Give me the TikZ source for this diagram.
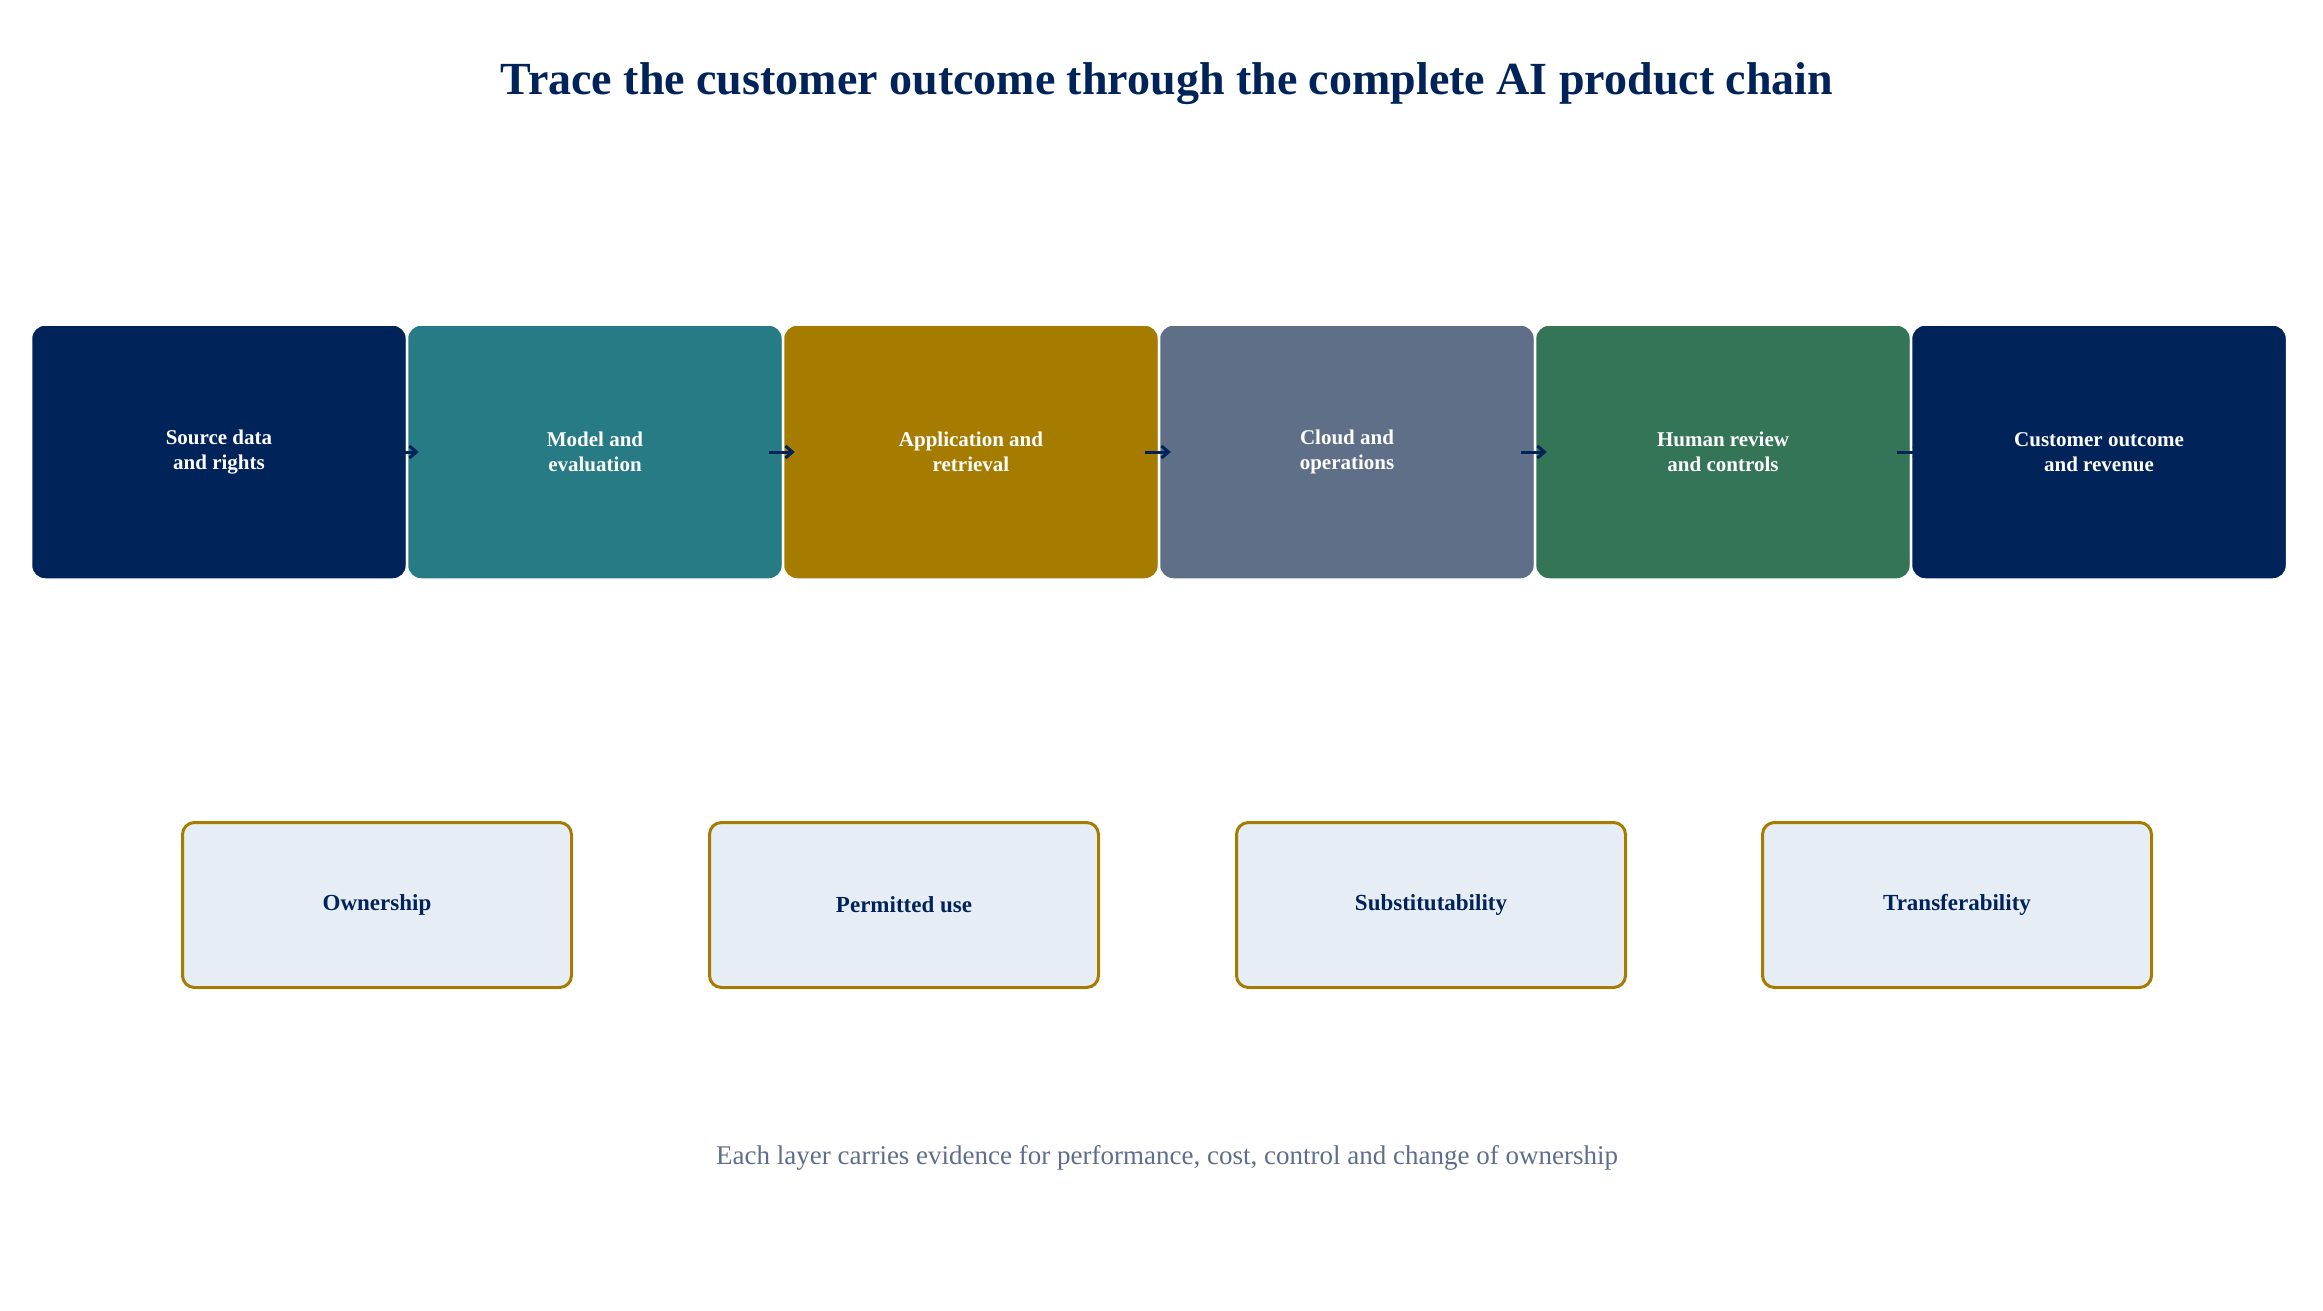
\documentclass[tikz,border=0pt]{standalone}
\usepackage{fontspec}
\setmainfont{Liberation Serif}
\usetikzlibrary{arrows.meta}
\definecolor{navy}{HTML}{00235A}
\definecolor{teal}{HTML}{277B85}
\definecolor{gold}{HTML}{A67C00}
\definecolor{slate}{HTML}{5F6F88}
\definecolor{green}{HTML}{347558}
\definecolor{pale}{HTML}{E6EDF5}
\definecolor{foot}{HTML}{5E6E8A}
\begin{document}
\begin{tikzpicture}[x=1pt,y=-1pt,
  chain/.style={draw=white,line width=2.5pt,rounded corners=14pt,minimum width=376pt,minimum height=255pt,inner sep=0pt,text=white,align=center,font=\fontsize{21}{25}\selectfont\bfseries},
  prop/.style={draw=gold,line width=3pt,fill=pale,rounded corners=12pt,minimum width=389pt,minimum height=165pt,text=navy,font=\fontsize{23}{27}\selectfont\bfseries},
  flow/.style={draw=navy,line width=3pt,-{Straight Barb[length=7pt,width=12pt]}}]
\useasboundingbox (0,0) rectangle (2323,1311);
\node[text=navy,font=\fontsize{46}{52}\selectfont\bfseries] (title) at (1167,84) {Trace the customer outcome through the complete AI product chain};
\node[chain,fill=navy]  (c1) at (219,452) {Source data\\and rights};
\node[chain,fill=teal]  (c2) at (595,452) {Model and\\evaluation};
\node[chain,fill=gold]  (c3) at (971,452) {Application and\\retrieval};
\node[chain,fill=slate] (c4) at (1347,452) {Cloud and\\operations};
\node[chain,fill=green] (c5) at (1723,452) {Human review\\and controls};
\node[chain,fill=navy]  (c6) at (2099,452) {Customer outcome\\and revenue};
\foreach \a/\b in {c1/c2,c2/c3,c3/c4,c4/c5,c5/c6}
  \draw[flow] ([xshift=-15pt]\a.east) -- ([xshift=13pt]\b.west);
\node[prop] (p1) at (377,905) {Ownership};
\node[prop] (p2) at (904,905) {Permitted use};
\node[prop] (p3) at (1431,905) {Substitutability};
\node[prop] (p4) at (1957,905) {Transferability};
\node[text=foot,font=\fontsize{27}{32}\selectfont] (note) at (1167,1158) {Each layer carries evidence for performance, cost, control and change of ownership};
\end{tikzpicture}
\end{document}
